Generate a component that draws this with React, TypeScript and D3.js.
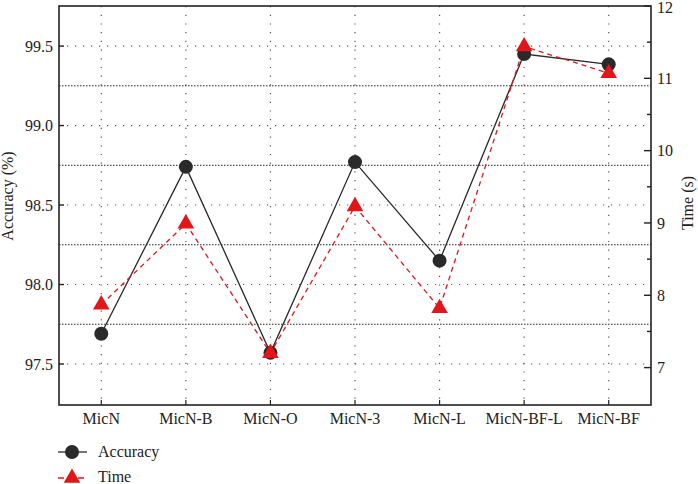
import React from "react";
import * as d3 from "d3";

const categories = ["MicN", "MicN-B", "MicN-O", "MicN-3", "MicN-L", "MicN-BF-L", "MicN-BF"];
const accuracy = [97.69, 98.74, 97.57, 98.77, 98.15, 99.45, 99.385];
const timeSec = [7.87, 8.99, 7.2, 9.23, 7.82, 11.44, 11.07];
const leftTicks = [97.5, 98.0, 98.5, 99.0, 99.5];
const leftMinor = [97.75, 98.25, 98.75, 99.25];
const rightTicks = [7, 8, 9, 10, 11, 12];
const rightMinor = [7.5, 8.5, 9.5, 10.5, 11.5];
const seriesNames = ["Accuracy", "Time"];

const W = 698, H = 484;
const L = 59, R = 651, T = 6, B = 405;
const FONT = "'Liberation Serif', 'Times New Roman', serif";
const RED = "#e0161b";
const DARK = "#2a2a2a";

export default function App() {
  const x = d3.scalePoint<string>().domain(categories).range([L, R]).padding(0.5);
  const yL = d3.scaleLinear().domain([97.242, 99.752]).range([B, T]);
  const yR = d3.scaleLinear().domain([6.483, 12.0]).range([B, T]);

  const accLine = d3.line<number>().x((_, i) => x(categories[i])!).y((d) => yL(d))(accuracy)!;
  const timeLine = d3.line<number>().x((_, i) => x(categories[i])!).y((d) => yR(d))(timeSec)!;
  const tri = d3.symbol().type(d3.symbolTriangle).size(120)()!;

  return (
    <svg width={W} height={H} style={{ position: "absolute", left: 0, top: 0, background: "#fff", fontFamily: FONT }}>
      <rect x={0} y={0} width={W} height={H} fill="#fff" />
      {categories.map((c) => (
        <line key={"vg" + c} x1={x(c)} x2={x(c)} y1={T} y2={B} stroke="#555" strokeWidth={1.2} strokeDasharray="1.2,7.5" />
      ))}
      {leftTicks.map((t) => (
        <line key={"hg" + t} x1={L} x2={R} y1={yL(t)} y2={yL(t)} stroke="#555" strokeWidth={1.2} strokeDasharray="1.2,6.8" />
      ))}
      {leftMinor.map((t) => (
        <line key={"hm" + t} x1={L} x2={R} y1={yL(t)} y2={yL(t)} stroke="#222" strokeWidth={1} strokeDasharray="1.5,1.5" />
      ))}
      <rect x={L} y={T} width={R - L} height={B - T} fill="none" stroke="#222" strokeWidth={1.6} />
      {leftTicks.map((t) => (
        <g key={"lt" + t}>
          <line x1={L} x2={L + 5} y1={yL(t)} y2={yL(t)} stroke="#222" strokeWidth={1.4} />
          <text x={53} y={yL(t)} dy="0.35em" textAnchor="end" fontSize={16} fill="#222">{t.toFixed(1)}</text>
        </g>
      ))}
      {rightTicks.map((t) => (
        <g key={"rt" + t}>
          <line x1={R - 7} x2={R} y1={yR(t)} y2={yR(t)} stroke="#222" strokeWidth={1.4} />
          <text x={657} y={Math.max(yR(t), 7.5)} dy="0.35em" textAnchor="start" fontSize={16} fill="#222">{t}</text>
        </g>
      ))}
      {rightMinor.map((t) => (
        <line key={"rm" + t} x1={R - 4} x2={R} y1={yR(t)} y2={yR(t)} stroke="#222" strokeWidth={1.4} />
      ))}
      {categories.map((c) => (
        <g key={"bt" + c}>
          <line x1={x(c)} x2={x(c)} y1={B} y2={B - 5} stroke="#222" strokeWidth={1.2} />
          <text x={x(c)} y={424} textAnchor="middle" fontSize={16} fill="#222">{c}</text>
        </g>
      ))}
      <text transform={`translate(13,196) rotate(-90)`} textAnchor="middle" fontSize={16} fill="#222">Accuracy (%)</text>
      <text transform={`translate(693,203) rotate(-90)`} textAnchor="middle" fontSize={16} fill="#222">Time (s)</text>
      <path d={accLine} fill="none" stroke={DARK} strokeWidth={1.3} />
      <path d={timeLine} fill="none" stroke={RED} strokeWidth={1.3} strokeDasharray="5,4" />
      {accuracy.map((v, i) => (
        <circle key={"c" + i} cx={x(categories[i])} cy={yL(v)} r={7} fill={DARK} />
      ))}
      {timeSec.map((v, i) => (
        <path key={"t" + i} d={tri} transform={`translate(${x(categories[i])},${yR(v)})`} fill={RED} />
      ))}
      <g>
        <line x1={58} x2={87} y1={452} y2={452} stroke={DARK} strokeWidth={1.3} />
        <circle cx={72} cy={452} r={7} fill={DARK} />
        <text x={98} y={457} fontSize={16} fill="#222">{seriesNames[0]}</text>
        <line x1={58} x2={87} y1={478} y2={478} stroke={RED} strokeWidth={1.3} strokeDasharray="6,4" />
        <path d={tri} transform="translate(72,478)" fill={RED} />
        <text x={98} y={482} fontSize={16} fill="#222">{seriesNames[1]}</text>
      </g>
    </svg>
  );
}
